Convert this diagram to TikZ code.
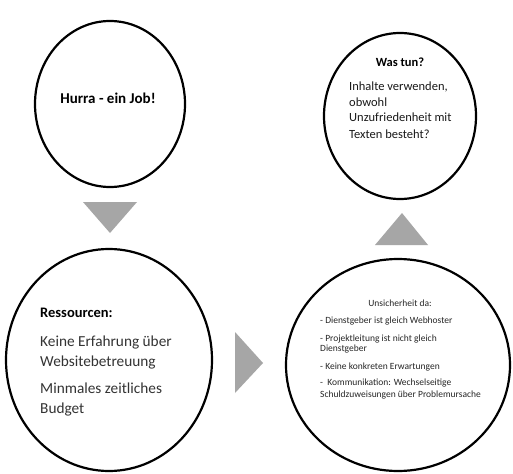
\documentclass[tikz,border=0pt]{standalone}
\usepackage{fontspec}
\setmainfont{Carlito}
\usetikzlibrary{shapes.geometric}
\begin{document}
\begin{tikzpicture}[x=1pt,y=-1pt,
  circ/.style={ellipse, draw=black, line width=2.2pt, fill=white, inner sep=0pt},
  tri/.style={fill=black!35},
  big/.style={font=\fontsize{15.3}{18}\selectfont, text=black!80, anchor=base west, inner sep=0pt},
  bigb/.style={font=\bfseries\fontsize{14.5}{17}\selectfont, text=black, anchor=base west, inner sep=0pt},
  mid/.style={font=\fontsize{12.5}{15}\selectfont, text=black!90, anchor=base west, inner sep=0pt},
  small/.style={font=\fontsize{9.5}{11}\selectfont, text=black!85, anchor=base west, inner sep=0pt}]
\useasboundingbox (0,0) rectangle (513,473);
\fill[white] (0,0) rectangle (513,473);

% circles
\node[circ, minimum width=150pt, minimum height=166pt] (hurra) at (110,104) {};
\node[circ, minimum width=206pt, minimum height=222pt] (res) at (109,360) {};
\node[circ, minimum width=152pt, minimum height=166pt] (was) at (400,116) {};
\node[circ, minimum width=224pt, minimum height=212pt] (uns) at (398,365) {};

% block arrows
\coordinate (d1) at (83,202); \coordinate (d2) at (137,202); \coordinate (d3) at (110,233);
\fill[tri] (d1) -- (d2) -- (d3) -- cycle;
\coordinate (r1) at (235,332); \coordinate (r2) at (235,393); \coordinate (r3) at (263,363);
\fill[tri] (r1) -- (r2) -- (r3) -- cycle;
\coordinate (u1) at (375,245); \coordinate (u2) at (428,245); \coordinate (u3) at (402,213);
\fill[tri] (u1) -- (u2) -- (u3) -- cycle;

% texts
\node[font=\bfseries\fontsize{15}{18}\selectfont, anchor=base, inner sep=0pt] (t1) at (108,104) {Hurra - ein Job!};

\node[bigb] (r0) at (40,317) {Ressourcen:};
\node[big] (ra) at (40,346) {Keine Erfahrung über};
\node[big] (rb) at (40,366) {Websitebetreuung};
\node[big] (rc) at (40,393) {Minmales zeitliches};
\node[big] (rd) at (40,413) {Budget};

\node[font=\bfseries\fontsize{12.5}{15}\selectfont, anchor=base, inner sep=0pt] (w0) at (400,67) {Was tun?};
\node[mid] (wa) at (349,91) {Inhalte verwenden,};
\node[mid] (wb) at (349,107) {obwohl};
\node[mid] (wc) at (349,122) {Unzufriedenheit mit};
\node[mid] (wd) at (349,139) {Texten besteht?};

\node[font=\fontsize{9.5}{11}\selectfont, text=black!85, anchor=base, inner sep=0pt] (u0) at (400,306) {Unsicherheit da:};
\node[small] (ua) at (320,323) {- Dienstgeber ist gleich Webhoster};
\node[small] (ub) at (320,341) {- Projektleitung ist nicht gleich};
\node[small] (uc) at (320,351) {Dienstgeber};
\node[small] (ud) at (320,369) {- Keine konkreten Erwartungen};
\node[small] (ue) at (320,385) {-\ \ Kommunikation: Wechselseitige};
\node[small] (uf) at (320,397) {Schuldzuweisungen über Problemursache};
\end{tikzpicture}
\end{document}
